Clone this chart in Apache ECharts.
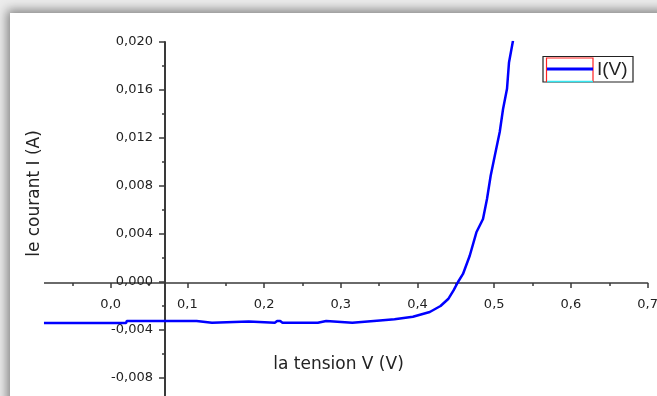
<!DOCTYPE html>
<html>
<head>
<meta charset="utf-8">
<script src="https://cdn.jsdelivr.net/npm/echarts@6/dist/echarts.min.js"></script>
<style>
html,body{margin:0;padding:0;width:657px;height:396px;overflow:hidden;background:#ececec;}
#wrap{position:absolute;left:10px;top:13px;width:660px;height:430px;background:#fff;box-shadow:-3px -3px 10px rgba(0,0,0,0.45);}
#chart{width:660px;height:430px;}
</style>
</head>
<body>
<div id="wrap"><div id="chart"></div></div>
<script>
// Data: voltage (V) and current (A)
const voltage = [-0.087, 0.020, 0.021, 0.112, 0.114, 0.132, 0.134, 0.180, 0.182, 0.214, 0.217, 0.221, 0.224, 0.270, 0.272, 0.281, 0.283, 0.315, 0.317, 0.351, 0.370, 0.394, 0.416, 0.430, 0.440, 0.447, 0.4528, 0.4593, 0.4681, 0.4768, 0.4854, 0.4906, 0.4954, 0.5007, 0.5072, 0.5115, 0.5167, 0.5193, 0.5245];
const current = [-0.00342, -0.00342, -0.00325, -0.00325, -0.00340, -0.00340, -0.00330, -0.00330, -0.00340, -0.00340, -0.00325, -0.00325, -0.00340, -0.00340, -0.00325, -0.00325, -0.00340, -0.00340, -0.00330, -0.00320, -0.00310, -0.00290, -0.00250, -0.00200, -0.00142, -0.00070, 0.00000, 0.00067, 0.00219, 0.00414, 0.00525, 0.00692, 0.00886, 0.01050, 0.01250, 0.01440, 0.01610, 0.01830, 0.02010];
const xTitle = 'la tension V (V)';
const yTitle = 'le courant I (A)';
const legendName = 'I(V)';

const pts = voltage.map((v, i) => [v, current[i]]);
const fmt = (v, d) => v.toFixed(d).replace('.', ',');
const chart = echarts.init(document.getElementById('chart'));
const txt = '#222';
const axisCol = '#3a3a3a';
const tickFont = 'DejaVu Sans';
// grid: left rel 24 (x=-0.1), width 613.6 (0.8 V), top rel 29 (0.020), height 384 (0.032 A)
chart.setOption({
  animation: false,
  grid: { left: 24, top: 29, width: 613.6, height: 384, containLabel: false, outerBoundsMode: 'none' },
  xAxis: [{
    type: 'value', min: -0.1, max: 0.7, interval: 0.1, position: 'bottom', offset: -143,
    axisLine: { show: true, onZero: false, lineStyle: { color: axisCol, width: 1.5 } },
    axisTick: { show: true, inside: false, length: 5, lineStyle: { color: axisCol, width: 1.5 } },
    minorTick: { show: true, splitNumber: 2, length: 3, lineStyle: { color: axisCol, width: 1.5 } },
    axisLabel: { color: txt, fontFamily: tickFont, fontSize: 13, margin: 15,
      formatter: v => (v < -0.001 ? '' : fmt(v, 1)) },
    splitLine: { show: false }
  }],
  yAxis: [{
    type: 'value', min: -0.012, max: 0.020, interval: 0.004, position: 'left', offset: -131,
    axisLine: { show: true, onZero: false, lineStyle: { color: axisCol, width: 2 } },
    axisTick: { show: true, inside: false, length: 6, lineStyle: { color: axisCol, width: 1.5 } },
    minorTick: { show: true, splitNumber: 2, length: 3, lineStyle: { color: axisCol, width: 1.5 } },
    axisLabel: { color: txt, fontFamily: tickFont, fontSize: 13, margin: 12,
      formatter: v => fmt(v, 3) },
    splitLine: { show: false }
  }],
  series: [{
    type: 'line', data: pts, showSymbol: false,
    lineStyle: { color: '#0000ff', width: 2.5 }, clip: true
  }],
  graphic: [
    { type: 'rect', z: 100, shape: { x: 0, y: 262, width: 34, height: 16 }, style: { fill: '#fff' } },
    { type: 'text', z: 100, x: 25, y: 180.5, rotation: Math.PI / 2,
      style: { text: yTitle, fill: txt, font: '17px "DejaVu Sans"', align: 'center', verticalAlign: 'middle' } },
    { type: 'text', z: 100, x: 328.5, y: 352,
      style: { text: xTitle, fill: txt, font: '17px "DejaVu Sans"', align: 'center', verticalAlign: 'middle' } },
    { type: 'rect', z: 100, shape: { x: 533, y: 43.5, width: 90, height: 25.5 }, style: { fill: '#fff', stroke: '#222', lineWidth: 1.2 } },
    { type: 'rect', z: 101, shape: { x: 536.5, y: 45, width: 46.5, height: 23.5 }, style: { fill: 'none', stroke: '#ff2020', lineWidth: 1.2 } },
    { type: 'line', z: 102, shape: { x1: 537, y1: 68.5, x2: 583, y2: 68.5 }, style: { stroke: '#33e6f0', lineWidth: 1.5 } },
    { type: 'line', z: 102, shape: { x1: 537, y1: 56, x2: 583, y2: 56 }, style: { stroke: '#0000ff', lineWidth: 3 } },
    { type: 'text', z: 102, x: 587, y: 57,
      style: { text: legendName, fill: txt, font: '19px "Liberation Sans"', align: 'left', verticalAlign: 'middle' } }
  ]
});
</script>
</body>
</html>
